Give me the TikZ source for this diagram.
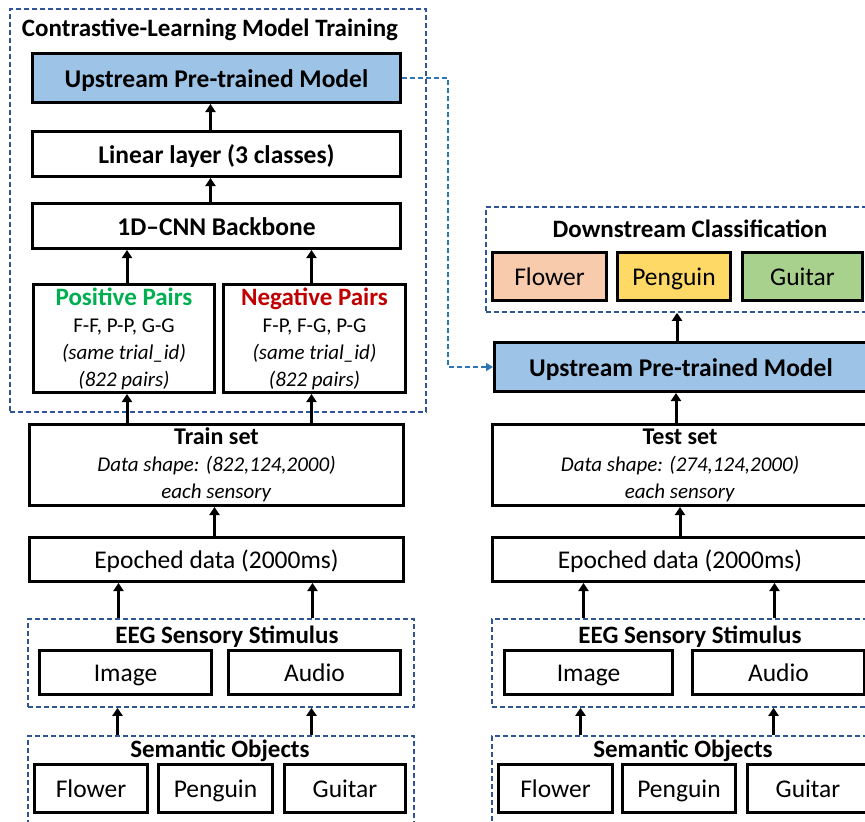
\documentclass[tikz,border=0pt]{standalone}
\usepackage{fontspec}
\setmainfont{Carlito}
\usetikzlibrary{arrows.meta,calc}
\definecolor{lblue}{HTML}{9DC3E6}
\definecolor{dblue}{HTML}{2F5597}
\definecolor{cblue}{HTML}{2E75B6}
\definecolor{cflower}{HTML}{F8CBAD}
\definecolor{cpenguin}{HTML}{FFD966}
\definecolor{cguitar}{HTML}{A9D18E}
\definecolor{cpos}{HTML}{00B050}
\definecolor{cneg}{HTML}{C00000}
% #1 style, #2 name, #3 x1, #4 y1, #5 x2, #6 y2, #7 text
\newcommand\mkbox[7][]{\node[bx,#1,minimum width={#5-#3-3},minimum height={#6-#4-3}] (#2) at ({(#3+#5)/2},{(#4+#6)/2}) {#7};}
\newcommand\mkdbox[5]{\node[dbox,minimum width={#4-#2},minimum height={#5-#3}] (#1) at ({(#2+#4)/2},{(#3+#5)/2}) {};}
\begin{document}
\begin{tikzpicture}[x=1pt,y=-1pt,
  bx/.style={draw=black,line width=3pt,inner sep=0pt,font=\fontsize{25.5}{30}\selectfont},
  one/.style={text height=20pt,text depth=2pt},
  hb/.style={one,font=\bfseries\fontsize{25.5}{30}\selectfont},
  dbox/.style={draw=dblue,line width=1.6pt,dash pattern=on 5pt off 3pt,inner sep=0pt},
  ttl/.style={font=\bfseries\fontsize{25}{30}\selectfont,inner sep=0pt,text height=17pt,text depth=5pt},
  multi/.style={align=center,font=\fontsize{21}{27}\selectfont},
  up/.style={line width=3pt,-{Triangle[width=10pt,length=8pt]}},
  link/.style={draw=cblue,line width=1.6pt,dash pattern=on 5pt off 3pt,-{Triangle[width=8pt,length=7pt]}}]
\clip (0,0) rectangle (865,822);
\fill[white] (0,0) rectangle (865,822);
% ---------------- left column ----------------
\mkdbox{cbox}{10}{9}{426}{412}
\node[ttl] (ctitle) at (210,30) {Contrastive-Learning Model Training};
\mkbox[hb,fill=lblue]{upL}{31}{52}{402}{104}{Upstream Pre-trained Model}
\mkbox[hb]{lin}{31}{130}{402}{178}{Linear layer (3 classes)}
\mkbox[hb]{cnn}{31}{202}{402}{250}{1D–CNN Backbone}
\mkbox[multi]{pos}{32}{283}{216}{394}{{\bfseries\fontsize{25}{27}\selectfont\color{cpos}Positive Pairs}\\F-F, P-P, G-G\\\textit{(same trial\_id)}\\\textit{(822 pairs)}}
\mkbox[multi]{neg}{222}{283}{407}{394}{{\bfseries\fontsize{25}{27}\selectfont\color{cneg}Negative Pairs}\\F-P, F-G, P-G\\\textit{(same trial\_id)}\\\textit{(822 pairs)}}
\mkbox[multi]{train}{28}{423}{405}{507}{{\bfseries\fontsize{24}{27}\selectfont Train set}\\\textit{Data shape: (822,124,2000)}\\\textit{each sensory}}
\mkbox[one]{epL}{28}{536}{405}{583}{Epoched data (2000ms)}
\mkdbox{eegL}{28}{619}{414}{707}
\node[ttl] (eegLt) at (227,637) {EEG Sensory Stimulus};
\mkbox[one]{imgL}{38}{649}{213}{696}{Image}
\mkbox[one]{audL}{227}{649}{402}{696}{Audio}
\mkdbox{semL}{28}{736}{414}{840}
\node[ttl] (semLt) at (220,751) {Semantic Objects};
\mkbox[one]{flL}{33}{763}{149}{814}{Flower}
\mkbox[one]{pgL}{157}{763}{274}{814}{Penguin}
\mkbox[one]{gtL}{283}{763}{407}{814}{Guitar}
% ---------------- right column ----------------
\mkdbox{dsbox}{486}{207}{880}{312}
\node[ttl] (dstitle) at (690,231) {Downstream Classification};
\mkbox[one,fill=cflower]{dF}{491}{251}{608}{302}{Flower}
\mkbox[one,fill=cpenguin]{dP}{616}{251}{732}{302}{Penguin}
\mkbox[one,fill=cguitar]{dG}{741}{251}{864}{302}{Guitar}
\mkbox[hb,fill=lblue]{upR}{493}{341}{869}{393}{Upstream Pre-trained Model}
\mkbox[multi]{test}{491}{423}{869}{507}{{\bfseries\fontsize{24}{27}\selectfont Test set}\\\textit{Data shape: (274,124,2000)}\\\textit{each sensory}}
\mkbox[one]{epR}{491}{536}{869}{583}{Epoched data (2000ms)}
\mkdbox{eegR}{492}{619}{880}{707}
\node[ttl] (eegRt) at (690,637) {EEG Sensory Stimulus};
\mkbox[one]{imgR}{503}{649}{674}{696}{Image}
\mkbox[one]{audR}{691}{649}{866}{696}{Audio}
\mkdbox{semR}{492}{736}{880}{840}
\node[ttl] (semRt) at (683,751) {Semantic Objects};
\mkbox[one]{flR}{497}{763}{614}{814}{Flower}
\mkbox[one]{pgR}{621}{763}{737}{814}{Penguin}
\mkbox[one]{gtR}{746}{763}{870}{814}{Guitar}
% ---------------- arrows left ----------------
\draw[up] ([xshift=-6pt]lin.north) -- ([xshift=-6pt]lin.north |- upL.south);
\draw[up] ([xshift=-6pt]cnn.north) -- ([xshift=-6pt]cnn.north |- lin.south);
\draw[up] ([xshift=3pt]pos.north) -- ([xshift=3pt]pos.north |- cnn.south);
\draw[up] ([xshift=-3pt]neg.north) -- ([xshift=-3pt]neg.north |- cnn.south);
\draw[up] ([xshift=3pt]pos.south |- train.north) -- ([xshift=3pt]pos.south);
\draw[up] ([xshift=-3pt]neg.south |- train.north) -- ([xshift=-3pt]neg.south);
\draw[up] ([xshift=-2pt]epL.north) -- ([xshift=-2pt]epL.north |- train.south);
\draw[up] ([xshift=-7pt]imgL.north |- eegL.north) -- ([xshift=-7pt]imgL.north |- epL.south);
\draw[up] ([xshift=-2pt]audL.north |- eegL.north) -- ([xshift=-2pt]audL.north |- epL.south);
\draw[up] ([xshift=-8pt]imgL.north |- semL.north) -- ([xshift=-8pt]imgL.north |- eegL.south);
\draw[up] ([xshift=-3pt]audL.north |- semL.north) -- ([xshift=-3pt]audL.north |- eegL.south);
% ---------------- arrows right ----------------
\draw[up] ([xshift=-4pt]test.north) -- ([xshift=-4pt]test.north |- upR.south);
\draw[up] ([xshift=-4pt]upR.north) -- ([xshift=-4pt]upR.north |- dsbox.south);
\draw[up] (epR.north) -- (epR.north |- test.south);
\draw[up] ([xshift=-5pt]imgR.north |- eegR.north) -- ([xshift=-5pt]imgR.north |- epR.south);
\draw[up] ([xshift=-4pt]audR.north |- eegR.north) -- ([xshift=-4pt]audR.north |- epR.south);
\draw[up] ([xshift=-8pt]imgR.north |- semR.north) -- ([xshift=-8pt]imgR.north |- eegR.south);
\draw[up] ([xshift=-5pt]audR.north |- semR.north) -- ([xshift=-5pt]audR.north |- eegR.south);
% ---------------- transfer link ----------------
\draw[link] (upL.east) -- ++(46,0) |- (upR.west);
\end{tikzpicture}
\end{document}
